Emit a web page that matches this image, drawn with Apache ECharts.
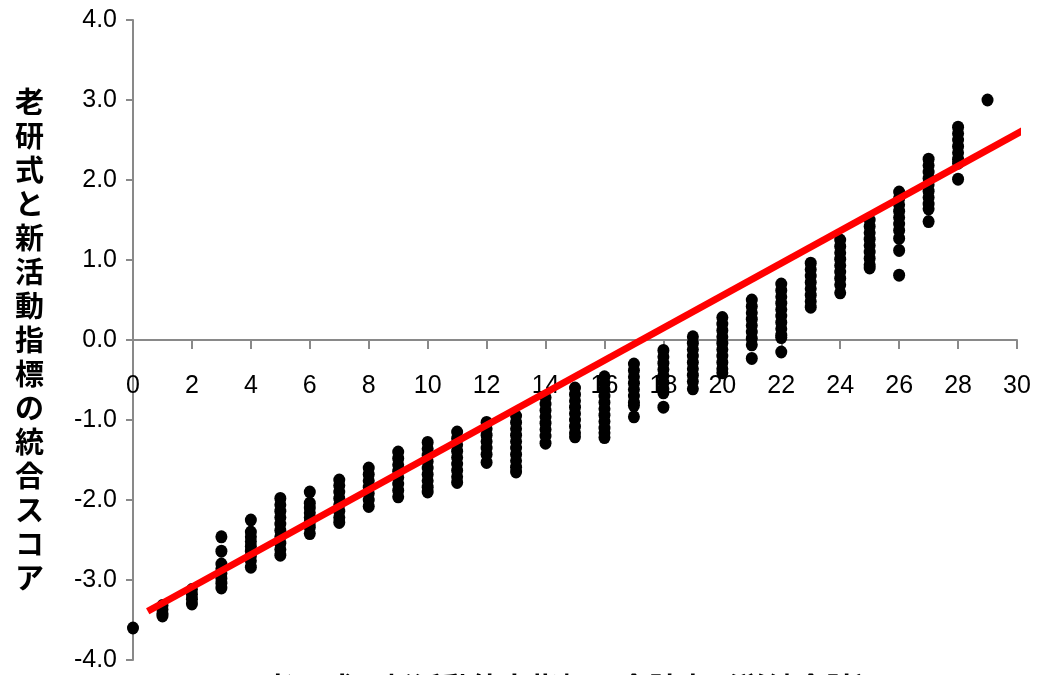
<!DOCTYPE html>
<html><head><meta charset="utf-8">
<script src="https://cdn.jsdelivr.net/npm/echarts@6/dist/echarts.min.js"></script>
<style>html,body{margin:0;padding:0;background:#fff}#c{width:1043px;height:675px}</style>
</head><body><div id="c"></div>
<script>
// 老研式と新活動指標の合計点 (x) と統合スコア (y)
const scores = [0,1,2,3,4,5,6,7,8,9,10,11,12,13,14,15,16,17,18,19,20,21,22,23,24,25,26,27,28,29];
const scoreValues = [
  [-3.60],
  [-3.32,-3.37,-3.42,-3.45],
  [-3.12,-3.18,-3.24,-3.30],
  [-2.46,-2.64,-2.80,-2.86,-2.92,-2.98,-3.04,-3.10],
  [-2.25,-2.40,-2.46,-2.52,-2.58,-2.64,-2.70,-2.76,-2.84],
  [-1.98,-2.06,-2.14,-2.22,-2.30,-2.38,-2.46,-2.54,-2.62,-2.69],
  [-1.90,-2.04,-2.10,-2.16,-2.22,-2.28,-2.34,-2.42],
  [-1.75,-1.82,-1.90,-1.98,-2.06,-2.14,-2.22,-2.28],
  [-1.60,-1.68,-1.76,-1.84,-1.92,-2.00,-2.08],
  [-1.40,-1.48,-1.56,-1.64,-1.72,-1.80,-1.88,-1.96],
  [-1.28,-1.36,-1.44,-1.52,-1.60,-1.68,-1.76,-1.84,-1.90],
  [-1.15,-1.23,-1.31,-1.39,-1.47,-1.55,-1.63,-1.71,-1.78],
  [-1.03,-1.11,-1.19,-1.27,-1.35,-1.43,-1.53],
  [-0.95,-1.03,-1.11,-1.19,-1.27,-1.35,-1.43,-1.51,-1.59,-1.65],
  [-0.72,-0.80,-0.88,-0.96,-1.04,-1.12,-1.20,-1.29],
  [-0.60,-0.68,-0.76,-0.84,-0.92,-1.00,-1.08,-1.16,-1.21],
  [-0.46,-0.54,-0.62,-0.70,-0.78,-0.86,-0.94,-1.02,-1.10,-1.16,-1.22],
  [-0.30,-0.38,-0.46,-0.54,-0.62,-0.70,-0.78,-0.82,-0.96],
  [-0.13,-0.21,-0.29,-0.37,-0.45,-0.53,-0.61,-0.66,-0.84],
  [0.04,-0.04,-0.12,-0.20,-0.28,-0.36,-0.44,-0.52,-0.61],
  [0.28,0.20,0.12,0.04,-0.04,-0.12,-0.20,-0.28,-0.36,-0.41],
  [0.50,0.42,0.34,0.26,0.18,0.10,0.02,-0.06,-0.23],
  [0.70,0.62,0.54,0.46,0.38,0.30,0.22,0.14,0.06,0.03,-0.15],
  [0.96,0.88,0.80,0.72,0.64,0.56,0.48,0.41],
  [1.25,1.17,1.09,1.01,0.93,0.85,0.77,0.69,0.59],
  [1.50,1.42,1.34,1.26,1.18,1.10,1.02,0.94,0.90],
  [1.85,1.77,1.69,1.61,1.53,1.45,1.37,1.27,1.12,0.81],
  [2.26,2.18,2.10,2.02,1.94,1.86,1.78,1.70,1.64,1.48],
  [2.66,2.58,2.50,2.42,2.34,2.26,2.21,2.01],
  [3.00]
];
const trendX = [0.5, 30.3];
const trendY = [-3.39, 2.64];
const xTitle = '老研式と新活動能力指標の合計点（単純合計）';
const yTitle = '老研式と新活動指標の統合スコア';

const points = [];
scores.forEach((s, i) => scoreValues[i].forEach(v => points.push([s, v])));
const trend = trendX.map((x, i) => [x, trendY[i]]);

const tickFont = "'Liberation Sans', Arial, sans-serif";
const cjkFont = "'Noto Sans CJK JP', sans-serif";
const axisColor = '#898989';

// grid geometry: the x axis is lifted from the grid bottom to the y = 0 line
const gridTop = 20, gridBottom = 15, chartH = 675;
const yMin = -4, yMax = 4;
const plotH = chartH - gridTop - gridBottom;
const zeroOffset = -plotH * (0 - yMin) / (yMax - yMin);

const chart = echarts.init(document.getElementById('c'), null, {renderer: 'canvas'});
chart.setOption({
  animation: false,
  backgroundColor: '#ffffff',
  grid: {left: 133, right: 26, top: gridTop, bottom: gridBottom, containLabel: false, outerBoundsMode: 'none'},
  xAxis: {
    type: 'value', min: 0, max: 30, interval: 2, offset: zeroOffset,
    axisLine: {show: true, onZero: false, lineStyle: {color: axisColor, width: 2}},
    axisTick: {show: true, length: 9, lineStyle: {color: axisColor, width: 2}},
    axisLabel: {margin: 34, fontSize: 25, color: '#000', fontFamily: tickFont, showMinLabel: true, showMaxLabel: true},
    splitLine: {show: false},
    name: xTitle, nameLocation: 'middle', nameGap: 333,
    nameTextStyle: {fontSize: 29.5, fontWeight: 'bold', color: '#000', fontFamily: cjkFont}
  },
  yAxis: {
    type: 'value', min: yMin, max: yMax, interval: 1,
    axisLine: {show: true, lineStyle: {color: axisColor, width: 2}},
    axisTick: {show: true, length: 7, lineStyle: {color: axisColor, width: 2}},
    axisLabel: {margin: 16, fontSize: 25, color: '#000', fontFamily: tickFont, formatter: v => v.toFixed(1)},
    splitLine: {show: false},
    name: yTitle.split('').join('\n'), nameLocation: 'middle', nameRotate: 0, nameGap: 89,
    nameTextStyle: {fontSize: 29, lineHeight: 34, fontWeight: 'bold', color: '#000', fontFamily: cjkFont, padding: [30, 0, 0, 0]}
  },
  series: [
    {type: 'scatter', data: points, symbol: 'circle', symbolSize: [12, 13], itemStyle: {color: '#000', opacity: 1}, z: 2},
    {type: 'line', data: trend, showSymbol: false, symbol: 'none', clip: false, lineStyle: {color: '#ff0000', width: 7, cap: 'butt'}, z: 3}
  ]
});
</script></body></html>
